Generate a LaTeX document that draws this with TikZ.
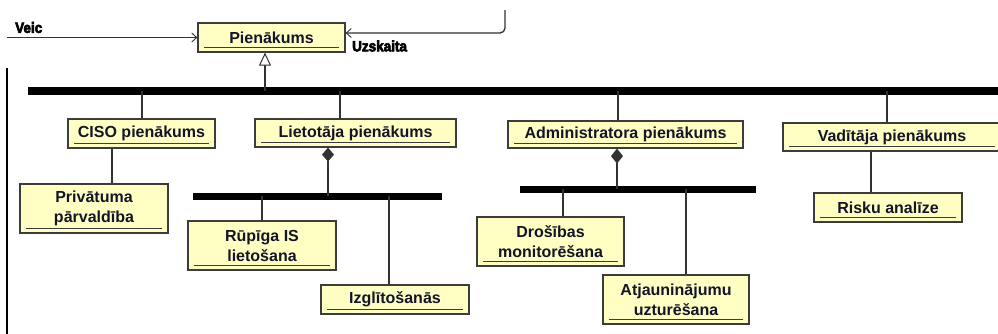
\documentclass[tikz,border=0pt]{standalone}
\usepackage{fontspec}
\setmainfont{Liberation Sans}
\newfontfamily\heavyfont[FakeBold=4, FakeStretch=0.9]{Liberation Sans Bold}
\usetikzlibrary{arrows.meta}
\definecolor{boxfill}{RGB}{255,255,196}
\definecolor{boxline}{RGB}{60,60,60}
\definecolor{inkline}{RGB}{50,50,50}
\definecolor{boxtext}{RGB}{20,20,40}
\tikzset{
  umlbox/.style={draw=boxline, line width=1.2pt, fill=boxfill, inner sep=0pt,
    align=center, text=boxtext,
    font=\fontsize{16}{20}\selectfont\bfseries,
    path picture={\draw[boxline, line width=1pt]
      ([xshift=6pt,yshift=5pt]path picture bounding box.south west) --
      ([xshift=-6pt,yshift=5pt]path picture bounding box.south east);}},
  busbar/.style={fill=black, draw=none, inner sep=0pt},
  link/.style={draw=inkline, line width=1.3pt},
  assoc/.style={link, -{Straight Barb[length=5pt,width=9pt,line width=0.9pt]}},
  tag/.style={font=\heavyfont\fontsize{15}{15}\selectfont, inner sep=0pt, anchor=west}
}
\begin{document}
\begin{tikzpicture}[x=1pt,y=-1pt]
\clip (0,0) rectangle (998,333);

% classes
\node[umlbox, minimum width=147pt, minimum height=29pt] (pien)  at (271.5,37.5) {Pienākums};
\node[umlbox, minimum width=147pt, minimum height=29pt] (ciso)  at (141.5,133.5) {CISO pienākums};
\node[umlbox, minimum width=201pt, minimum height=28pt] (liet)  at (355.5,133) {Lietotāja pienākums};
\node[umlbox, minimum width=235pt, minimum height=27pt] (admin) at (625.5,134.5) {Administratora pienākums};
\node[umlbox, minimum width=218pt, minimum height=28pt] (vad)   at (892,137) {Vadītāja pienākums};
\node[umlbox, minimum width=148pt, minimum height=49pt] (priv)  at (94,208.5) {Privātuma\\pārvaldība};
\node[umlbox, minimum width=148pt, minimum height=49pt] (rup)   at (262,245.5) {Rūpīga IS\\lietošana};
\node[umlbox, minimum width=148pt, minimum height=29pt] (izgl)  at (395,299.5) {Izglītošanās};
\node[umlbox, minimum width=147pt, minimum height=49pt] (dros)  at (550.5,241.5) {Drošības\\monitorēšana};
\node[umlbox, minimum width=146pt, minimum height=49pt] (atj)   at (676,299.5) {Atjauninājumu\\uzturēšana};
\node[umlbox, minimum width=148pt, minimum height=29pt] (risk)  at (888,207.5) {Risku analīze};

% bus bars
\node[busbar, anchor=west, minimum width=980pt, minimum height=8pt] (bus) at (28,91) {};
\node[busbar, anchor=west, minimum width=249pt, minimum height=7pt] (sub1) at (193,196) {};
\node[busbar, anchor=west, minimum width=236pt, minimum height=7pt] (sub2) at (520,189) {};

% branch points on the bars
\coordinate (g0) at (265,91);
\coordinate (g1) at (142,91);
\coordinate (g2) at (340,91);
\coordinate (g3) at (618,91);
\coordinate (g4) at (887,91);
\coordinate (s1a) at (262,196);
\coordinate (s1b) at (389,196);
\coordinate (s2a) at (563,189);
\coordinate (s2b) at (686,189);
\coordinate (d1) at (328,196);
\coordinate (d2) at (617,189);
\coordinate (c1) at (112,184);
\coordinate (v1) at (871,193);

% generalisation
\draw[link, -{Triangle[open, length=13pt, width=12pt, line width=1pt, fill=white]}] (g0) -- (g0 |- pien.south);
\draw[link] (g1) -- (g1 |- ciso.north);
\draw[link] (g2) -- (g2 |- liet.north);
\draw[link] (g3) -- (g3 |- admin.north);
\draw[link] (g4) -- (g4 |- vad.north);

% compositions
\draw[link, {Diamond[length=14pt, width=12pt]}-] (d1 |- liet.south) -- (d1);
\draw[link, {Diamond[length=15pt, width=12pt]}-] (d2 |- admin.south) -- (d2);
\draw[link] (s1a) -- (s1a |- rup.north);
\draw[link] (s1b) -- (s1b |- izgl.north);
\draw[link] (s2a) -- (s2a |- dros.north);
\draw[link] (s2b) -- (s2b |- atj.north);

% plain associations
\draw[link] (c1 |- ciso.south) -- (c1 |- priv.north);
\draw[link] (v1 |- vad.south) -- (v1 |- risk.north);

% incoming associations
\coordinate (veicend) at (7,37.5);
\coordinate (uzend) at (505,10);
\draw[assoc] (veicend) -- (pien.west);
\draw[assoc, rounded corners=5pt] (uzend) |- ([yshift=4.5pt]pien.east);
\node[tag] (veic) at (15,27.5) {Veic};
\node[tag] (uzsk) at (352,46) {Uzskaita};

% frame edge on the left
\coordinate (lf1) at (7,68);
\coordinate (lf2) at (7,340);
\draw[link, draw=black] (lf1) -- (lf2);
\end{tikzpicture}
\end{document}
